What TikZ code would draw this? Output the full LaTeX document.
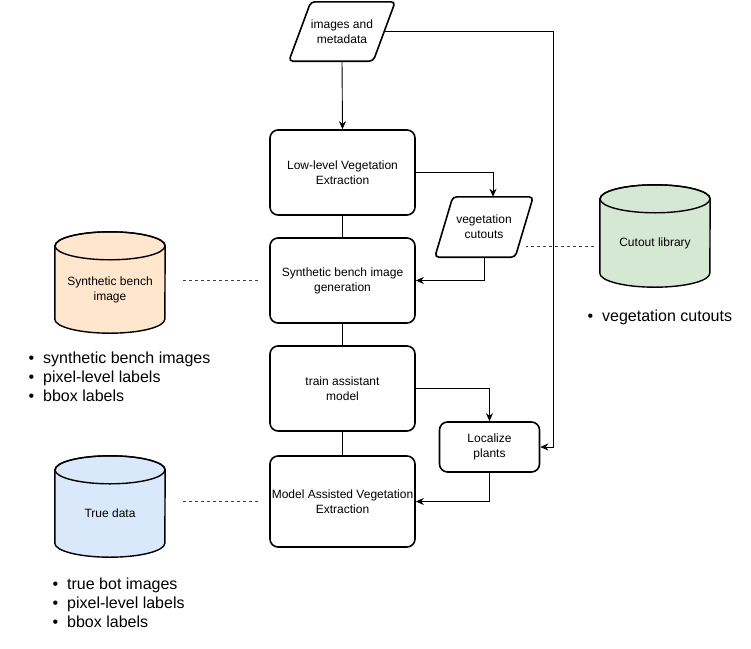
\documentclass[tikz,border=0pt]{standalone}
\usepackage{fontspec}
\setmainfont{Liberation Sans}
\usetikzlibrary{arrows.meta,calc,backgrounds}

\definecolor{peach}{HTML}{FFE6CC}
\definecolor{sage}{HTML}{D5E8D4}
\definecolor{sky}{HTML}{DAE8FC}

\tikzset{
  boxtext/.style={font=\fontsize{12}{15}\selectfont, align=center, inner sep=0pt},
  procbox/.style={boxtext, draw, line width=1.6pt, rounded corners=8pt,
                  minimum width=145pt},
  frame/.style={boxtext, minimum width=#1},
  outline/.style={line width=1.6pt, rounded corners=4pt},
  cylline/.style={line width=1.4pt},
  flow/.style={line width=0.9pt, -{Stealth[length=8pt,width=7pt,inset=2.5pt]}},
  link/.style={line width=1pt},
  assoc/.style={line width=0.9pt, black!75, dash pattern=on 3pt off 3pt},
  bulletline/.style={font=\fontsize{16}{19}\selectfont, inner sep=0pt, anchor=base west},
}

% bullet hanging to the left of an item
\newcommand{\itemdot}{\llap{\textbullet\hspace{9pt}}}

\begin{document}
\begin{tikzpicture}[x=1pt,y=-1pt]
\useasboundingbox (0,0) rectangle (751,648);

% ---- process boxes ----
\node[procbox, minimum height=85pt] (low) at (342.5,172.5) {Low-level Vegetation\\Extraction};
\node[procbox, minimum height=85pt] (gen) at (342.5,280.5) {Synthetic bench image\\generation};
\node[procbox, minimum height=85pt] (train) at (342.5,388.5) {train assistant\\model};
\node[procbox, minimum height=91pt] (model) at (342.5,501.5) {Model Assisted Vegetation\\Extraction};
\node[procbox, minimum width=100pt, minimum height=50pt] (loc) at (489.5,447) {Localize\\plants};

% ---- data (parallelograms) ----
\node[frame=106pt, minimum height=59pt] (img) at (342,31.5) {images and\\metadata};
\node[frame=98pt, minimum height=60pt] (cut) at (484,227) {vegetation\\cutouts};

% ---- stores (cylinder bodies; top ellipse sits on the north edge) ----
\node[frame=110pt, minimum height=87pt] (syn) at (110,289.5) {Synthetic bench\\image};
\node[frame=110pt, minimum height=88pt] (lib) at (655,243) {Cutout library};
\node[frame=110pt, minimum height=87pt] (true) at (110,513.5) {True data};

\begin{pgfonlayer}{background}
  % parallelograms
  \draw[outline] ([xshift=11pt]img.north) -- (img.north east) -- ([xshift=-22pt]img.south east)
        -- (img.south west) -- ([xshift=22pt]img.north west) -- cycle;
  \draw[outline] ([xshift=9pt]cut.north) -- (cut.north east) -- ([xshift=-18pt]cut.south east)
        -- (cut.south west) -- ([xshift=18pt]cut.north west) -- cycle;
  % cylinders
  \foreach \c/\col in {syn/peach, lib/sage, true/sky}{
    \filldraw[cylline, fill=\col] (\c.north west) -- ([yshift=14pt]\c.south west)
        arc[start angle=180, end angle=360, x radius=55pt, y radius=14pt]
        -- (\c.north east)
        arc[start angle=0, end angle=180, x radius=55pt, y radius=14pt] -- cycle;
    \draw[cylline] (\c.north) ellipse[x radius=55pt, y radius=14pt];
  }
\end{pgfonlayer}

% ---- connectors ----
\coordinate (imgR) at ([xshift=-11pt]img.east);
\draw[flow] (img.south) -- (low.north);
\draw[flow] (imgR) -| ([xshift=13.5pt]loc.east) -- (loc.east);
\draw[flow] (low.east) -| ([xshift=9pt]cut.north);
\draw[flow] (cut.south) |- (gen.east);
\draw[flow] (train.east) -| (loc.north);
\draw[flow] (loc.south) |- (model.east);
\draw[link] (low.south) -- (gen.north);
\draw[link] (gen.south) -- (train.north);
\draw[link] (train.south) -- (model.north);

% ---- dashed associations ----
\draw[assoc] ([xshift=18pt]syn.east |- gen.west) -- ([xshift=-11pt]gen.west);
\draw[assoc] ([xshift=18pt]true.east |- model.west) -- ([xshift=-11pt]model.west);
\coordinate (libL) at ([xshift=-6pt,yshift=-3pt]lib.west);
\draw[assoc] (libL) -- ++(-68,0);

% ---- bullet lists ----
\node[bulletline] (s1) at (43,363.5) {\itemdot synthetic bench images};
\node[bulletline] (s2) at (43,382.5) {\itemdot pixel-level labels};
\node[bulletline] (s3) at (43,401.5) {\itemdot bbox labels};

\node[bulletline] (c1) at (602,321.5) {\itemdot vegetation cutouts};

\node[bulletline] (t1) at (67,589) {\itemdot true bot images};
\node[bulletline] (t2) at (67,608) {\itemdot pixel-level labels};
\node[bulletline] (t3) at (67,627) {\itemdot bbox labels};
\end{tikzpicture}
\end{document}
